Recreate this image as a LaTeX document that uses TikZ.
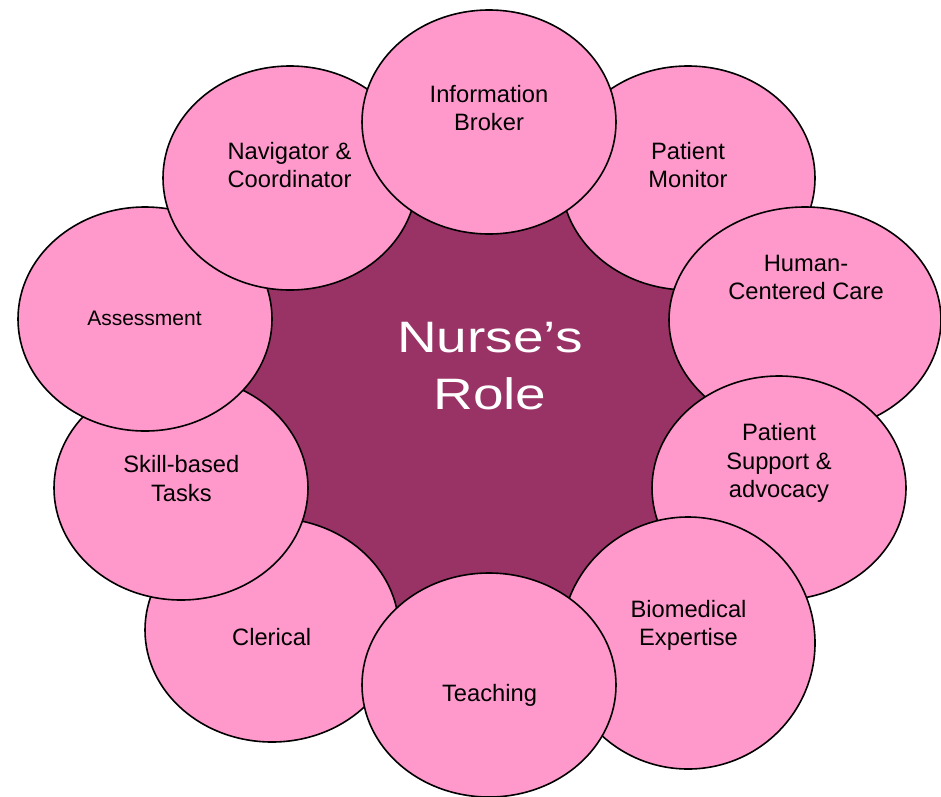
\documentclass[tikz,border=0pt]{standalone}
\usepackage{fontspec}
\setmainfont{Liberation Sans}
\usetikzlibrary{shapes.geometric}
\definecolor{petalpink}{HTML}{FF99CC}
\definecolor{hubpurple}{HTML}{993366}
\newfontfamily\widesans[FakeStretch=1.25]{Liberation Sans}

\begin{document}
\begin{tikzpicture}[x=1pt,y=-1pt,
  petal/.style={ellipse, draw=black, line width=1.6pt, fill=petalpink,
    inner sep=0pt, minimum width=254pt, minimum height=224pt},
  petaltext/.style={align=center, inner sep=0pt, text=black,
    font=\fontsize{23.7}{28.7}\selectfont},
  hubtext/.style={align=center, inner sep=0pt, text=white,
    font=\widesans\fontsize{44}{56.7}\selectfont}]
\useasboundingbox (0,0) rectangle (941,796);

% centres of the surrounding ellipses
\coordinate (cIB) at (489,122);
\coordinate (cPM) at (688,178);
\coordinate (cHC) at (805,320);
\coordinate (cPS) at (779,488);
\coordinate (cBE) at (688,643);
\coordinate (cTE) at (489,685);
\coordinate (cCL) at (272,630);
\coordinate (cSK) at (181,488);
\coordinate (cAS) at (145,319);
\coordinate (cNC) at (290,178);

% central hub, hidden at its rim by the ellipses
\fill[hubpurple] (cIB) -- (cPM) -- (cHC) -- (cPS) -- (cBE) -- (cTE)
  -- (cCL) -- (cSK) -- (cAS) -- (cNC) -- cycle;

% ellipses, back to front
\node[petal] (PM) at (cPM) {};
\node[petal, minimum width=272pt, minimum height=226pt] (HC) at (cHC) {};
\node[petal] (PS) at (cPS) {};
\node[petal, minimum height=252pt] (BE) at (cBE) {};
\node[petal] (CL) at (cCL) {};
\node[petal] (SK) at (cSK) {};
\node[petal] (AS) at (cAS) {};
\node[petal] (NC) at (cNC) {};
\node[petal] (IB) at (cIB) {};
\node[petal] (TE) at (cTE) {};

% labels
\node[petaltext] (tIB) at (489,108) {Information\\Broker};
\node[petaltext] (tPM) at (688,165) {Patient\\Monitor};
\node[petaltext] (tHC) at (806,277.5) {Human-\\Centered Care};
\node[petaltext] (tPS) at (779,463) {Patient\\Support \&\\advocacy};
\node[petaltext] (tBE) at (688.5,625.5) {Biomedical\\Expertise};
\node[petaltext] (tTE) at (489.5,695) {Teaching};
\node[petaltext] (tCL) at (271.7,637) {Clerical};
\node[petaltext] (tSK) at (181.3,478.3) {Skill-based\\Tasks};
\node[petaltext, font=\fontsize{21}{25}\selectfont] (tAS) at (144.5,318.7) {Assessment};
\node[petaltext] (tNC) at (289.5,165) {Navigator \&\\Coordinator};

\node[hubtext] (role) at (490,366) {Nurse’s\\Role};
\end{tikzpicture}
\end{document}
